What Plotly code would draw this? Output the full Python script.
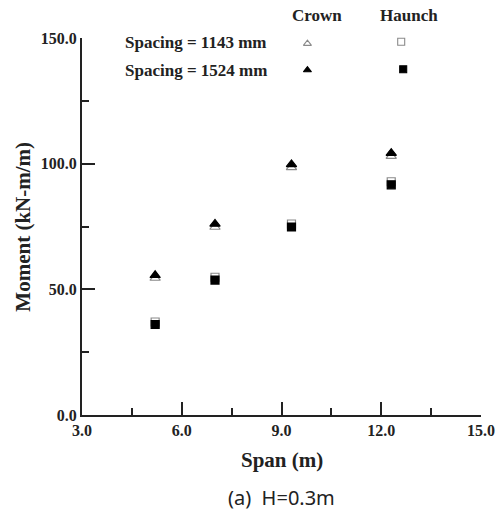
import plotly.graph_objects as go

# Span (m) and bending moment (kN-m/m) at crown and haunch
span = [5.2, 7.0, 9.3, 12.3]
crown_1143 = [54.5, 74.8, 98.5, 103.0]
crown_1524 = [55.6, 76.0, 99.7, 104.2]
haunch_1143 = [37.0, 54.8, 76.0, 92.8]
haunch_1524 = [36.0, 53.7, 74.8, 91.6]

x_ticks = [3.0, 6.0, 9.0, 12.0, 15.0]
y_ticks = [0.0, 50.0, 100.0, 150.0]

serif = "Liberation Serif"
gray = "#8a8a8a"

fig = go.Figure()

def add_series(y, symbol, color, size):
    fig.add_trace(go.Scatter(
        x=span, y=y, mode="markers", cliponaxis=False,
        marker=dict(symbol=symbol, size=size, color=color,
                    line=dict(color=color, width=1.2)),
        showlegend=False, hoverinfo="skip"))

add_series(crown_1143, "triangle-up-open", gray, 9)
add_series(haunch_1143, "square-open", gray, 8)
add_series(crown_1524, "triangle-up", "black", 9)
add_series(haunch_1524, "square", "black", 8)

# Key symbols placed on an overlay axis in fractional units
key = [
    (0.565, 0.985, "triangle-up-open", gray, 7),
    (0.565, 0.915, "triangle-up", "black", 7),
    (0.800, 0.990, "square-open", gray, 7),
    (0.805, 0.917, "square", "black", 7),
]
for kx, ky, sym, col, sz in key:
    fig.add_trace(go.Scatter(
        x=[kx], y=[ky], xaxis="x2", yaxis="y2", mode="markers",
        cliponaxis=False,
        marker=dict(symbol=sym, size=sz, color=col, line=dict(color=col, width=1.1)),
        showlegend=False, hoverinfo="skip"))

axis_common = dict(
    showgrid=False, zeroline=False, showline=True, linecolor="#222",
    linewidth=2, ticks="inside", ticklen=13, tickwidth=2, tickcolor="#222",
    tickfont=dict(family=serif, size=16, color="#222"), automargin=False,
)

fig.update_layout(
    width=497, height=514,
    margin=dict(l=82, r=16, t=38, b=99),
    plot_bgcolor="white", paper_bgcolor="white",
    xaxis=dict(range=[3, 15], tickvals=x_ticks,
               ticktext=[f"<b>{v:.1f}</b>" for v in x_ticks],
               minor=dict(ticks="inside", ticklen=7, tickwidth=2,
                          tickcolor="#222", dtick=1.5, tick0=3),
               **axis_common),
    yaxis=dict(range=[0, 150], tickvals=y_ticks,
               ticktext=[f"<b>{v:.1f}</b>" for v in y_ticks],
               minor=dict(ticks="inside", ticklen=7, tickwidth=2,
                          tickcolor="#222", dtick=25, tick0=0),
               **axis_common),
    xaxis2=dict(range=[0, 1], overlaying="x", visible=False, fixedrange=True,
                automargin=False),
    yaxis2=dict(range=[0, 1], overlaying="y", visible=False, fixedrange=True,
                automargin=False),
)

def label(text, x, y, size, family=serif, bold=True, angle=0, xanchor="center"):
    fig.add_annotation(
        text=f"<b>{text}</b>" if bold else text,
        x=x, y=y, xref="paper", yref="paper", showarrow=False,
        xanchor=xanchor, yanchor="middle", textangle=angle,
        font=dict(family=family, size=size, color="#222"))

label("Crown", 0.589, 1.061, 17)
label("Haunch", 0.820, 1.061, 17)
label("Spacing = 1143 mm", 0.103, 0.987, 17, xanchor="left")
label("Spacing = 1524 mm", 0.103, 0.915, 17, xanchor="left")
label("Moment (kN-m/m)", -0.150, 0.5, 21, angle=-90)
label("Span (m)", 0.5, -0.119, 21)
label("(a)  H=0.3m", 0.5, -0.220, 20, family="Noto Sans", bold=False)

fig.write_html("out.html")
